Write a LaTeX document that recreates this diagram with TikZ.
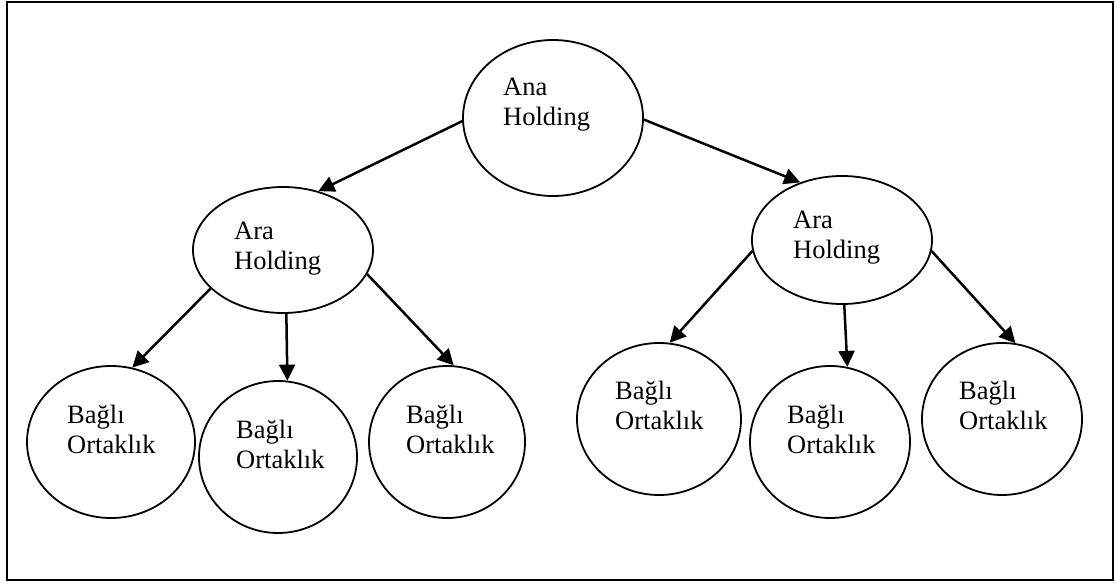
\documentclass[tikz,border=0pt]{standalone}
\usepackage{fontspec}
\setmainfont{Liberation Serif}
\usetikzlibrary{calc}
\usetikzlibrary{arrows.meta}
\usetikzlibrary{shapes.geometric}

\begin{document}
\begin{tikzpicture}[x=1pt,y=-1pt,
  oval/.style={draw=black,line width=1.8pt,ellipse,inner sep=0pt},
  lbl/.style={anchor=north west,inner sep=0pt,align=left,font=\fontsize{26.5}{30}\selectfont},
  arr/.style={line width=2.5pt,-{Triangle[length=16pt,width=16pt]}}]
\useasboundingbox (0,0) rectangle (1115,583);
\draw[line width=2pt] (7,2) rectangle (1113,580);

% ovals
\node[oval,minimum width=180pt,minimum height=156pt] (ana) at (553,118) {};
\node[oval,minimum width=180pt,minimum height=126pt] (araL) at (283,250) {};
\node[oval,minimum width=180pt,minimum height=128pt] (araR) at (842,240) {};
\node[oval,minimum width=168pt,minimum height=152pt] (b1) at (111,442) {};
\node[oval,minimum width=158pt,minimum height=152pt] (b2) at (278,457) {};
\node[oval,minimum width=156pt,minimum height=152pt] (b3) at (447,442) {};
\node[oval,minimum width=164pt,minimum height=152pt] (b4) at (659,419) {};
\node[oval,minimum width=160pt,minimum height=152pt] (b5) at (830,442) {};
\node[oval,minimum width=160pt,minimum height=152pt] (b6) at (1002,419) {};

% texts
\node[lbl] (anaT) at (503,77.5) {Ana\\Holding};
\node[lbl] (araLT) at (234,221.5) {Ara\\Holding};
\node[lbl] (araRT) at (793,210.5) {Ara\\Holding};
\node[lbl] (b1T) at (67,404.5) {Bağlı\\Ortaklık};
\node[lbl] (b2T) at (236,419.5) {Bağlı\\Ortaklık};
\node[lbl] (b3T) at (406,404.5) {Bağlı\\Ortaklık};
\node[lbl] (b4T) at (615,380.5) {Bağlı\\Ortaklık};
\node[lbl] (b5T) at (787,404.5) {Bağlı\\Ortaklık};
\node[lbl] (b6T) at (959,380.5) {Bağlı\\Ortaklık};

% arrows
\draw[arr] (ana.182) -- (araL.59);
\draw[arr] (ana.-1) -- (araR.126);
\draw[arr] (araL.208) -- (b1.74);
\draw[arr] (araL.273.6) -- (b2.83.4);
\draw[arr] (araL.-16) -- (b3.85);
\draw[arr] (araR.187) -- (b4.82);
\draw[arr] (araR.272.7) -- (b5.77.4);
\draw[arr] (araR.-7) -- (b6.80);
\end{tikzpicture}
\end{document}
